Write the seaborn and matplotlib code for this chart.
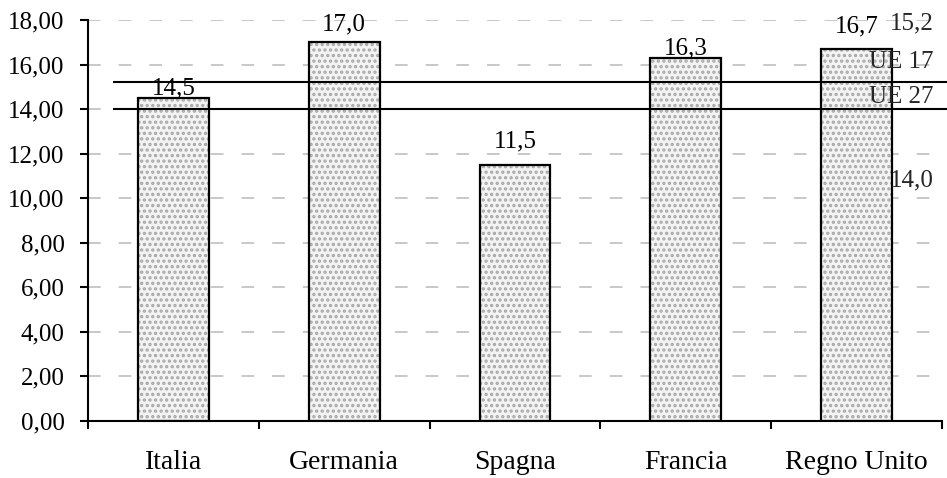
import matplotlib
matplotlib.use("Agg")
import matplotlib.pyplot as plt
import pandas as pd
import seaborn as sns

# Dati
paesi = ["Italia", "Germania", "Spagna", "Francia", "Regno Unito"]
valori = [14.5, 17.0, 11.5, 16.3, 16.7]
riferimenti = ["UE 17", "UE 27"]
valori_ue = [15.2, 14.0]
tick_y = [0, 2, 4, 6, 8, 10, 12, 14, 16, 18]

# Stile
sns.set_theme(style="white")
plt.rcParams["font.family"] = ["Liberation Serif", "DejaVu Serif"]
plt.rcParams["font.size"] = 18
plt.rcParams["hatch.linewidth"] = 1.6

FS = 18


def virgola(v, cifre):
    return f"{v:.{cifre}f}".replace(".", ",")


fig = plt.figure(figsize=(9.47, 4.78), dpi=100)
ax = fig.add_axes([88 / 947, 57 / 478, (942 - 88) / 947, (421 - 20) / 478])

df = pd.DataFrame({"paese": paesi, "valore": valori})

# Riempimento puntinato delle barre
sns.barplot(data=df, x="paese", y="valore", color="#f3f3f3", saturation=1,
            width=0.415, edgecolor="#a8a8a8", hatch="...", linewidth=0,
            errorbar=None, ax=ax, zorder=2)
# Contorno delle barre
sns.barplot(data=df, x="paese", y="valore", color="black", fill=False,
            saturation=1, width=0.415, linewidth=1.6,
            errorbar=None, ax=ax, zorder=3)

# Etichette dei valori sopra le barre
scarti = [7, 13, 17, 7, 16]
for i, (v, d) in enumerate(zip(valori, scarti)):
    ax.annotate(virgola(v, 1), xy=(i, v), xytext=(0, d), textcoords="offset points",
                ha="center", va="center", fontsize=FS, color="black", zorder=5)

# Linee di riferimento UE
ax.hlines(valori_ue, -0.354, 4.53, colors="black", linewidth=1.5, zorder=4, clip_on=False)
pos_nomi = [16.11, 14.54]
for nome, yy in zip(riferimenti, pos_nomi):
    ax.text(4.453, yy, nome, ha="right", va="center", fontsize=FS, zorder=5)
pos_valori = [17.86, 10.82]
for v, yy in zip(valori_ue, pos_valori):
    ax.text(4.453, yy, virgola(v, 1), ha="right", va="center", fontsize=FS, zorder=5)

# Assi
ax.set_xlim(-0.5, 4.5)
ax.set_ylim(0, 18)
ax.set_yticks(tick_y)
ax.set_yticklabels([virgola(t, 2) for t in tick_y])
ax.set_xticks(range(len(paesi)))
ax.set_xticklabels(paesi)
ax.set_xticks([i - 0.5 for i in range(len(paesi) + 1)], minor=True)
ax.set_xlabel("")
ax.set_ylabel("")

ax.tick_params(axis="y", which="major", direction="out", length=6, width=1.5,
               pad=11, labelsize=FS, colors="black", left=True)
ax.tick_params(axis="x", which="major", length=0, pad=21, labelsize=20, colors="black")
ax.tick_params(axis="x", which="minor", direction="out", length=6, width=1.5,
               bottom=True, colors="black")

ax.set_axisbelow(True)
ax.yaxis.grid(True, color="#c4c4c4", linestyle=(0, (7, 10)), linewidth=1.3)
ax.xaxis.grid(False)

for lato in ["top", "right"]:
    ax.spines[lato].set_visible(False)
for lato in ["left", "bottom"]:
    ax.spines[lato].set_color("black")
    ax.spines[lato].set_linewidth(1.5)

fig.savefig("out.png", dpi=100)
